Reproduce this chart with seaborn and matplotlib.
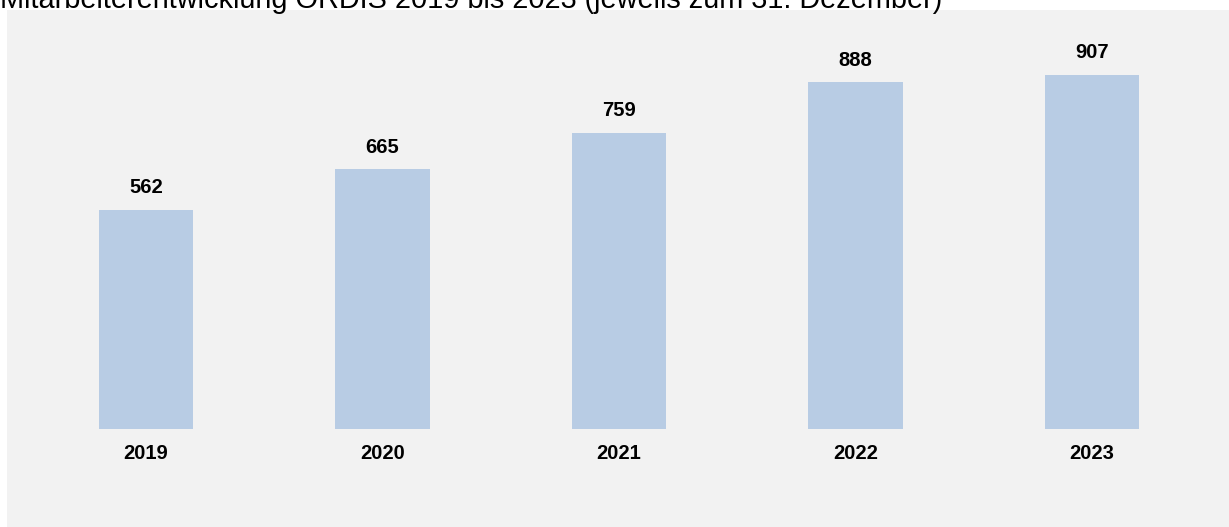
import matplotlib
matplotlib.use("Agg")
import matplotlib.pyplot as plt
import seaborn as sns
import pandas as pd

# Mitarbeiterzahlen jeweils zum 31.12.
years = ["2019", "2020", "2021", "2022", "2023"]
employees = [562, 665, 759, 888, 907]

TITLE = "Mitarbeiterentwicklung ORDIS 2019 bis 2023 (jeweils zum 31. Dezember)"
BAR_COLOR = "#b8cce4"
PANEL_COLOR = "#f2f2f2"

sns.set_style("white")
plt.rcParams["font.family"] = ["Liberation Sans", "DejaVu Sans"]
plt.rcParams["text.color"] = "black"

df = pd.DataFrame({"year": years, "employees": employees})

fig = plt.figure(figsize=(12.29, 5.27), dpi=100)
fig.patch.set_facecolor("white")
ax = fig.add_axes([7 / 1229, 0, 1 - 7 / 1229, 1 - 10 / 527])
ax.set_facecolor(PANEL_COLOR)

sns.barplot(data=df, x="year", y="employees", color=BAR_COLOR,
            width=0.4, saturation=1, linewidth=0, edgecolor="none", ax=ax)

ax.set_xlim(-0.588, 4.58)
ax.set_ylim(-251, 1073)

for i, (yr, val) in enumerate(zip(years, employees)):
    ax.annotate(str(val), (i, val), xytext=(0, 16), textcoords="offset points",
                ha="center", va="center", fontsize=14.5, fontweight="bold",
                color="black")
    ax.annotate(yr, (i, 0), xytext=(0, -18), textcoords="offset points",
                ha="center", va="center", fontsize=14.5, fontweight="bold",
                color="black")

ax.set_xticks([])
ax.set_yticks([])
ax.set_xlabel("")
ax.set_ylabel("")
for s in ax.spines.values():
    s.set_visible(False)

fig.text(0, 1 - 8 / 527, TITLE, ha="left", va="baseline", fontsize=20.8,
         color="black")

fig.savefig("out.png", dpi=100)
